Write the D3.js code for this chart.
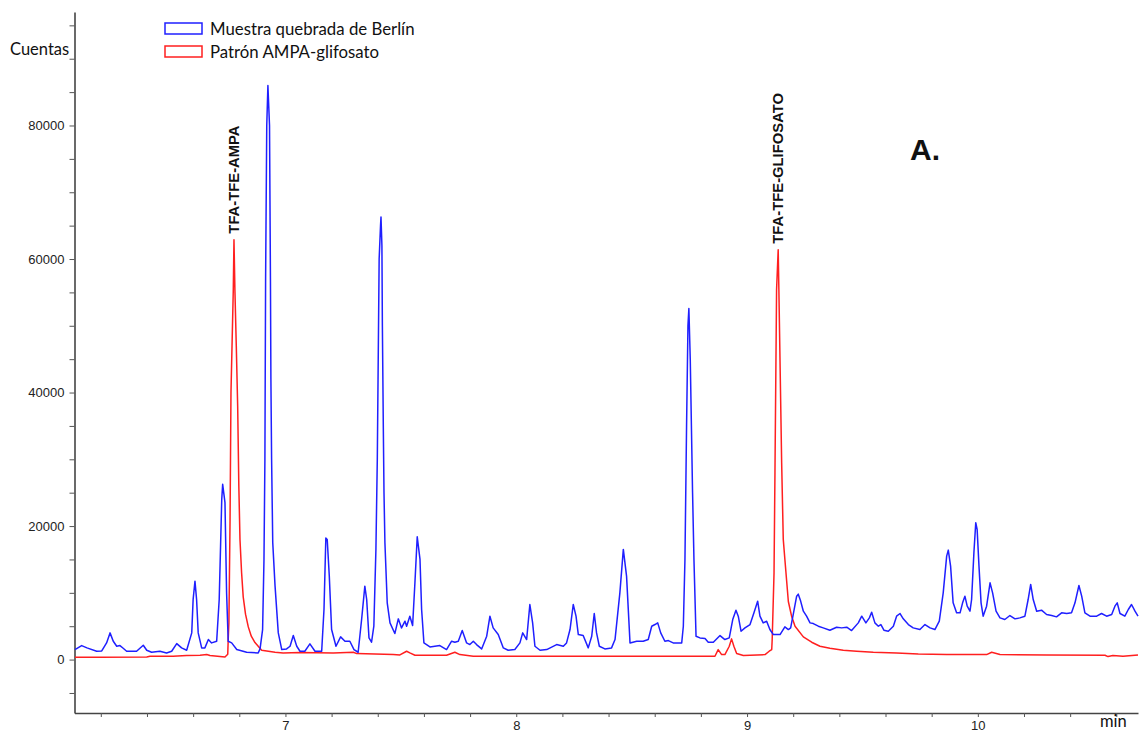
<!DOCTYPE html>
<html>
<head>
<meta charset="utf-8">
<script src="https://cdn.jsdelivr.net/npm/d3@7"></script>
<style>
  body { margin: 0; background: #fff; }
  svg { display: block; }
</style>
</head>
<body>
<svg width="1142" height="734"></svg>
<script>
// retention time (min), counts
var muestra = [
  [6.088,1500],[6.117,2100],[6.140,1750],[6.182,1250],[6.204,1300],[6.225,2500],[6.240,4000],[6.254,2750],
  [6.269,2000],[6.283,2100],[6.297,1700],[6.312,1250],[6.355,1250],[6.384,2150],[6.399,1400],[6.420,1100],
  [6.456,1250],[6.485,1000],[6.507,1250],[6.529,2400],[6.550,1750],[6.572,1400],[6.594,4000],[6.600,9000],
  [6.608,11750],[6.615,9000],[6.622,4000],[6.637,1750],[6.651,1750],[6.666,3000],[6.680,2500],[6.702,2750],
  [6.713,9000],[6.724,24000],[6.728,26250],[6.738,23500],[6.745,10000],[6.752,2750],[6.767,2500],[6.789,1500],
  [6.832,1100],[6.882,1000],[6.890,1600],[6.901,4500],[6.907,15000],[6.911,30000],[6.914,57000],[6.919,80000],
  [6.924,86000],[6.931,80000],[6.935,57000],[6.937,42000],[6.940,30000],[6.945,17500],[6.955,11000],[6.969,4000],
  [6.984,1500],[7.005,1600],[7.020,2000],[7.034,3600],[7.049,2000],[7.063,1250],[7.084,1250],[7.106,2350],
  [7.128,1250],[7.157,1250],[7.167,7500],[7.175,18200],[7.181,18000],[7.190,12500],[7.200,4500],[7.219,2000],
  [7.239,3400],[7.258,2750],[7.279,2750],[7.297,1500],[7.315,1100],[7.330,6000],[7.344,11000],[7.352,9000],
  [7.362,3250],[7.373,2600],[7.383,5000],[7.392,16500],[7.398,30000],[7.402,45000],[7.406,60000],[7.412,65000],
  [7.414,66300],[7.418,62000],[7.420,50000],[7.424,35000],[7.427,25000],[7.431,17500],[7.441,8500],[7.453,5500],
  [7.474,3900],[7.489,6100],[7.503,4750],[7.518,5750],[7.525,5000],[7.539,6500],[7.551,5100],[7.561,11500],
  [7.571,18400],[7.583,15000],[7.590,7500],[7.600,2500],[7.626,1900],[7.669,2100],[7.698,1500],[7.720,2750],
  [7.734,2600],[7.749,2750],[7.766,4350],[7.785,2500],[7.799,2250],[7.814,2750],[7.828,2250],[7.850,1600],
  [7.872,3500],[7.886,6500],[7.900,4750],[7.922,3750],[7.944,1750],[7.965,1400],[7.994,1500],[8.016,2500],
  [8.028,4000],[8.045,3000],[8.059,8250],[8.071,5500],[8.081,2000],[8.103,1400],[8.132,1500],[8.175,2250],
  [8.204,2000],[8.218,2500],[8.233,4500],[8.247,8250],[8.259,6500],[8.269,3750],[8.290,3600],[8.312,1750],
  [8.327,3500],[8.338,6900],[8.348,4000],[8.360,2000],[8.384,1600],[8.413,1750],[8.428,3000],[8.449,10000],
  [8.464,16500],[8.478,12500],[8.493,2500],[8.522,2750],[8.550,2750],[8.572,3000],[8.587,5000],[8.601,5250],
  [8.613,5500],[8.626,4000],[8.644,2750],[8.659,2850],[8.680,2500],[8.717,2500],[8.724,5000],[8.731,15000],
  [8.738,35000],[8.744,50000],[8.748,52600],[8.754,45000],[8.764,25000],[8.770,15000],[8.779,3500],[8.796,3250],
  [8.818,3150],[8.832,2600],[8.854,2600],[8.883,3600],[8.904,3000],[8.923,3250],[8.938,6000],[8.952,7400],
  [8.962,6500],[8.974,4250],[8.991,4750],[9.013,5250],[9.030,7000],[9.046,8750],[9.056,6500],[9.070,5500],
  [9.085,5750],[9.099,4500],[9.114,3750],[9.143,3750],[9.164,4900],[9.179,4500],[9.189,4750],[9.200,6750],
  [9.215,9500],[9.222,9800],[9.232,8800],[9.244,7250],[9.258,6500],[9.273,5500],[9.287,5400],[9.309,5000],
  [9.330,4750],[9.359,4400],[9.388,4850],[9.410,4750],[9.432,4850],[9.453,4350],[9.482,5500],[9.497,6500],
  [9.515,5500],[9.530,6250],[9.540,7100],[9.554,5500],[9.569,5000],[9.580,5250],[9.593,4400],[9.612,4250],
  [9.634,5000],[9.648,6500],[9.663,6900],[9.677,6100],[9.699,5250],[9.720,4750],[9.749,4500],[9.771,5250],
  [9.793,4750],[9.814,4500],[9.833,5750],[9.850,10000],[9.865,15500],[9.872,16400],[9.882,14000],[9.893,8500],
  [9.908,7000],[9.923,7000],[9.934,8500],[9.944,9500],[9.954,8000],[9.966,7250],[9.973,9000],[9.983,16000],
  [9.991,20500],[9.997,19500],[10.005,14000],[10.014,8500],[10.023,6500],[10.038,8000],[10.053,11500],[10.064,10000],
  [10.079,7250],[10.096,6250],[10.117,6000],[10.139,6600],[10.161,6100],[10.182,6250],[10.204,6500],[10.218,9000],
  [10.229,11250],[10.240,9000],[10.255,7250],[10.276,7400],[10.298,6750],[10.320,6600],[10.341,6400],[10.363,7000],
  [10.385,6900],[10.406,7000],[10.421,8500],[10.438,11100],[10.450,9500],[10.464,7000],[10.486,6500],[10.515,6500],
  [10.536,6900],[10.558,6500],[10.580,6750],[10.594,8000],[10.604,8500],[10.616,6900],[10.637,6500],[10.652,7500],
  [10.666,8250],[10.681,7250],[10.694,6500]
];

var patron = [
  [6.088,350],[6.196,350],[6.399,400],[6.413,500],[6.513,500],[6.572,600],[6.630,650],[6.659,750],
  [6.673,600],[6.738,400],[6.750,800],[6.752,3000],[6.755,5500],[6.760,21000],[6.764,40000],[6.774,55400],
  [6.777,62900],[6.781,55400],[6.787,47000],[6.793,38000],[6.798,26000],[6.803,18000],[6.810,13000],[6.817,9400],
  [6.827,6800],[6.839,4900],[6.852,3500],[6.868,2550],[6.897,1400],[6.955,1100],[6.990,1000],[7.063,1050],
  [7.207,1000],[7.294,1100],[7.309,900],[7.467,750],[7.496,700],[7.525,1250],[7.539,1000],[7.561,650],
  [7.698,650],[7.734,1100],[7.756,750],[7.814,500],[8.189,500],[8.536,500],[8.861,500],[8.875,1500],
  [8.890,750],[8.904,750],[8.923,2000],[8.933,3100],[8.943,2000],[8.955,900],[8.984,600],[9.078,750],
  [9.096,1250],[9.107,1500],[9.109,3000],[9.117,13000],[9.121,28000],[9.128,55400],[9.135,61400],[9.138,55400],
  [9.150,29500],[9.157,18000],[9.164,15000],[9.179,8700],[9.193,6500],[9.208,5000],[9.244,3400],[9.280,2600],
  [9.316,2000],[9.359,1700],[9.417,1400],[9.475,1250],[9.547,1100],[9.648,1000],[9.742,850],[9.865,750],
  [10.038,750],[10.060,1100],[10.096,750],[10.298,700],[10.551,650],[10.564,450],[10.585,600],[10.629,500],
  [10.694,700]
];

var seriesNames = ["Muestra quebrada de Berlín", "Patrón AMPA-glifosato"];
var seriesColors = ["#1f1fff", "#ff1f1f"];
var peakLabels = ["TFA-TFE-AMPA", "TFA-TFE-GLIFOSATO"];
var peakWindows = [[6.7, 6.9], [9.0, 9.2]];
var xTickLabels = [7, 8, 9, 10];

var svg = d3.select("svg");

var x = d3.scaleLinear().domain([6.086, 10.694]).range([74.5, 1138]);
var y = d3.scaleLinear().domain([-8000, 97000]).range([713, 12]);

// axes
var yAxis = d3.axisLeft(y)
  .tickValues(d3.range(-5000, 95001, 5000))
  .tickFormat(function(d){ return d % 20000 === 0 ? d : ""; })
  .tickSize(5).tickSizeOuter(0).tickPadding(5);

var xAxis = d3.axisBottom(x)
  .tickValues(d3.range(6.2, 10.61, 0.2))
  .tickFormat(function(d){
    var r = Math.round(d);
    return Math.abs(d - r) < 0.01 && xTickLabels.indexOf(r) >= 0 ? r : "";
  })
  .tickSize(4).tickSizeOuter(0).tickPadding(4);

var gy = svg.append("g").attr("transform", "translate(74.5,0)").call(yAxis);
var gx = svg.append("g").attr("transform", "translate(0,713)").call(xAxis);

[gx, gy].forEach(function(g){
  g.select(".domain").attr("stroke", "#444").attr("stroke-width", 1.6);
  g.selectAll(".tick line").attr("stroke", "#555");
  g.selectAll(".tick text")
    .attr("fill", "#222")
    .style("font-family", "'Liberation Sans', Arial, sans-serif")
    .style("font-size", "13px");
});

svg.append("text")
  .attr("x", 10).attr("y", 55)
  .style("font-family", "Lato, sans-serif").style("font-size", "16.5px")
  .attr("fill", "#111")
  .text("Cuentas");

svg.append("text")
  .attr("x", 1100).attr("y", 727)
  .style("font-family", "Lato, sans-serif").style("font-size", "16.5px")
  .attr("fill", "#111")
  .text("min");

// traces
var line = d3.line()
  .x(function(d){ return x(d[0]); })
  .y(function(d){ return y(d[1]); });

[patron, muestra].forEach(function(s, i){
  svg.append("path")
    .datum(s)
    .attr("fill", "none")
    .attr("stroke", i === 0 ? seriesColors[1] : seriesColors[0])
    .attr("stroke-width", 1.5)
    .attr("stroke-linejoin", "round")
    .attr("d", line);
});

// peak labels on the standard's peaks
peakWindows.forEach(function(w, i){
  var pts = patron.filter(function(d){ return d[0] >= w[0] && d[0] <= w[1]; });
  var top = pts.reduce(function(a, b){ return b[1] > a[1] ? b : a; });
  var px = x(top[0]) + 5, py = y(top[1]) - 6;
  svg.append("text")
    .attr("transform", "translate(" + px + "," + py + ") rotate(-90)")
    .style("font-family", "'Liberation Sans', Arial, sans-serif")
    .style("font-size", "14.8px").style("font-weight", "bold")
    .attr("fill", "#111")
    .text(peakLabels[i]);
});

svg.append("text")
  .attr("x", 910).attr("y", 160)
  .style("font-family", "'Liberation Sans', Arial, sans-serif")
  .style("font-size", "30px").style("font-weight", "bold")
  .attr("fill", "#111")
  .text("A.");

// legend
var legend = svg.append("g");
seriesNames.forEach(function(name, i){
  var ly = 23 + i * 23;
  legend.append("rect")
    .attr("x", 165).attr("y", ly).attr("width", 37).attr("height", 11)
    .attr("fill", "#fff")
    .attr("stroke", seriesColors[i]).attr("stroke-width", 1.5);
  legend.append("text")
    .attr("x", 210).attr("y", ly + 12)
    .style("font-family", "Lato, sans-serif").style("font-size", "16.8px")
    .attr("fill", "#111")
    .text(name);
});
</script>
</body>
</html>
